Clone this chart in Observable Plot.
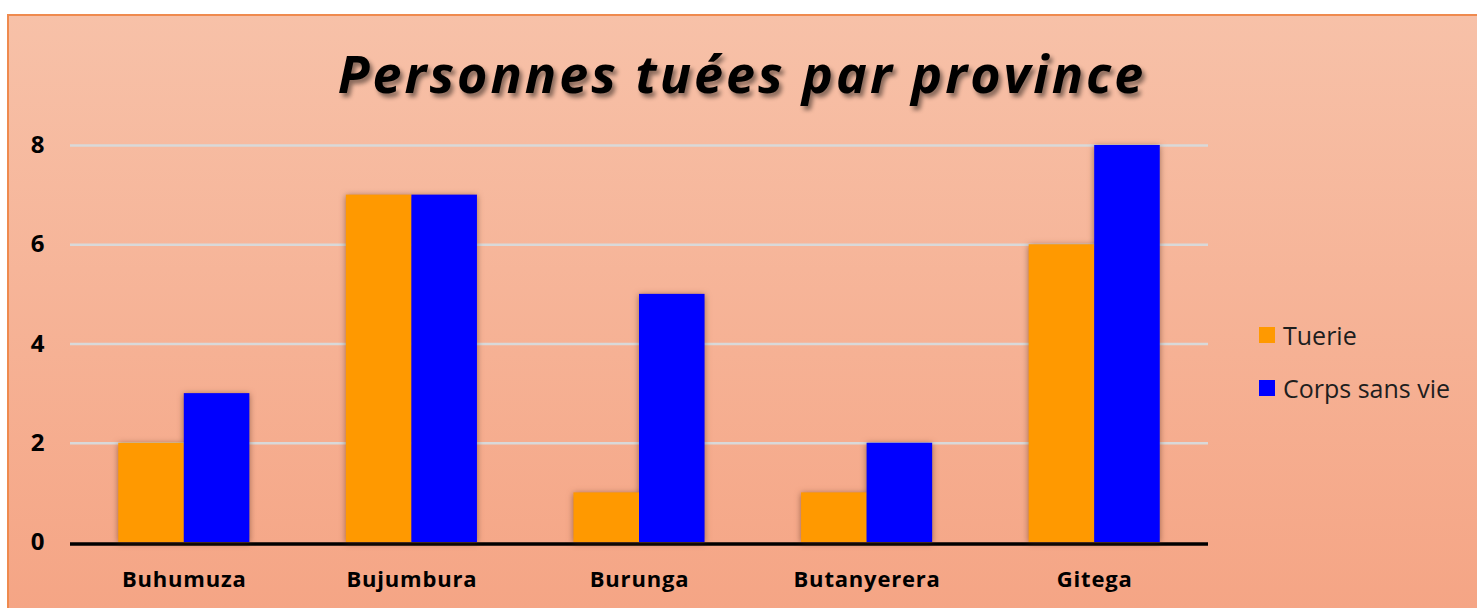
<!DOCTYPE html>
<html>
<head>
<meta charset="utf-8">
<script src="https://cdn.jsdelivr.net/npm/d3@7"></script>
<script src="https://cdn.jsdelivr.net/npm/@observablehq/plot@0.6"></script>
<style>
  html, body { margin: 0; padding: 0; background: #ffffff; }
  #wrap { position: relative; width: 1477px; height: 608px; overflow: hidden; background: #fff; }
  #bg { position: absolute; left: 7px; top: 14px; width: 1470px; height: 594px;
        background: linear-gradient(#f7c1a8, #f5a585);
        border-top: 2px solid #ef8a4e; border-left: 2px solid #ef8a4e; box-sizing: border-box; }
  #title { position: absolute; left: 0; top: 47px; width: 1484px; text-align: center;
           font-family: "Open Sans", sans-serif; font-weight: 700; font-style: italic;
           font-size: 52px; line-height: 1; letter-spacing: 3px; color: #000;
           text-shadow: 3px 4px 4px rgba(0,0,0,0.45); }
  .plot { position: absolute; left: 0; top: 100px; }
  #legend { position: absolute; left: 1259px; top: 0; font-family: "Open Sans", sans-serif; font-size: 25px; color: #1e1e1e; }
  .item { position: absolute; left: 0; white-space: nowrap; display: flex; align-items: center; }
  .sw { width: 16px; height: 16px; margin-right: 8px; }
</style>
</head>
<body>
<div id="wrap">
  <div id="bg"></div>
  <div id="title">Personnes tuées par province</div>
  <div id="grid" class="plot"></div>
  <div id="bars" class="plot"></div>
  <div id="legend"></div>
</div>
<script>
const titleText = "Personnes tuées par province";
const provinces = ["Buhumuza", "Bujumbura", "Burunga", "Butanyerera", "Gitega"];
const series = ["Tuerie", "Corps sans vie"];
const tuerie = [2, 7, 1, 1, 6];
const corpsSansVie = [3, 7, 5, 2, 8];
const yTicks = [0, 2, 4, 6, 8];
const colors = ["#ff9900", "#0000ff"];

const values = [tuerie, corpsSansVie];
const data = [];
provinces.forEach((p, i) => series.forEach((s, j) => data.push({province: p, serie: s, value: values[j][i]})));

const W = 1477, H = 508;
const margins = {marginLeft: 70, marginRight: 269, marginTop: 45, marginBottom: 66};
const font = "'Open Sans', sans-serif";

const grid = Plot.plot({
  width: W, height: H, ...margins,
  style: {background: "transparent", fontFamily: font, fontSize: "24px", fontWeight: "700", color: "#000"},
  y: {domain: [0, 8], ticks: yTicks, tickSize: 0, tickPadding: 26, label: null, tickFormat: d => String(d)},
  marks: [
    Plot.ruleY(yTicks.filter(d => d > 0), {stroke: "#d9d9d9", strokeWidth: 2.5}),
    Plot.ruleY([0], {stroke: "#000", strokeWidth: 3.5, dy: 1.5})
  ]
});
document.getElementById("grid").appendChild(grid);

const bars = Plot.plot({
  width: W, height: H, ...margins,
  style: {background: "transparent", fontFamily: font, fontSize: "22px", fontWeight: "700", color: "#000", letterSpacing: "0.8px"},
  fx: {domain: provinces, paddingInner: 0.424, paddingOuter: 0.212, round: false, axis: "bottom", tickSize: 0, tickPadding: 29, label: null},
  x: {domain: series, padding: 0, round: false, axis: null},
  y: {domain: [0, 8], axis: null},
  color: {domain: series, range: colors},
  facet: {data: data, x: "province", marginBottom: 66},
  marks: [
    Plot.barY(data, {x: "serie", y: "value", fill: "serie", inset: 0})
  ]
});
bars.querySelectorAll('g[aria-label="bar"]').forEach(g => g.style.filter = "drop-shadow(0px 1px 3px rgba(80,40,20,0.55))");
document.getElementById("bars").appendChild(bars);

const legend = document.getElementById("legend");
const legendTops = [318, 371];
series.forEach((s, j) => {
  const it = document.createElement("div");
  it.className = "item";
  it.style.top = legendTops[j] + "px";
  const sw = document.createElement("span");
  sw.className = "sw";
  sw.style.background = colors[j];
  const tx = document.createElement("span");
  tx.textContent = s;
  it.appendChild(sw); it.appendChild(tx);
  legend.appendChild(it);
});
</script>
</body>
</html>
